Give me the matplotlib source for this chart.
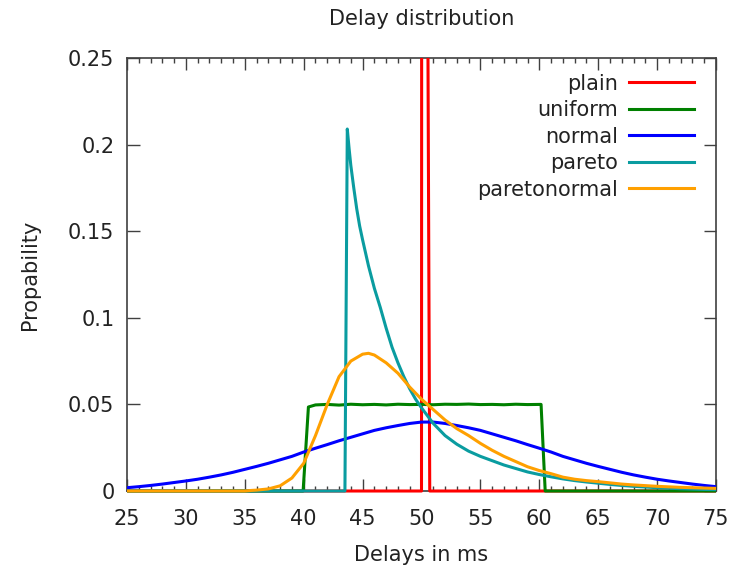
import matplotlib
matplotlib.use("Agg")
import matplotlib.pyplot as plt
from matplotlib.ticker import MultipleLocator
from matplotlib.patches import Rectangle

# ---- data ----
plain_x = [25, 50.0, 50.05, 50.1, 50.7, 75]
plain_y = [0, 0, 1.0, 1.0, 0, 0]

uniform_x = [25, 39.95, 40.4, 41, 42, 43, 44, 45, 46, 47, 48, 49, 50, 51, 52, 53, 54, 55,
             56, 57, 58, 59, 60.15, 60.5, 75]
uniform_y = [0, 0, 0.0485, 0.0497, 0.0500, 0.0496, 0.0501, 0.0498, 0.0500, 0.0497, 0.0501,
             0.0499, 0.0500, 0.0498, 0.0501, 0.0500, 0.0502, 0.0499, 0.0500, 0.0498, 0.0501,
             0.0499, 0.0500, 0, 0]

normal_x = list(range(25, 76))
normal_y = [0.0019, 0.0025, 0.0032, 0.0040, 0.0049, 0.0058, 0.0068, 0.0080, 0.0093, 0.0108,
            0.0125, 0.0142, 0.0160, 0.0180, 0.0200, 0.0225, 0.0247, 0.0268, 0.0290, 0.0310,
            0.0330, 0.0350, 0.0365, 0.0378, 0.0390, 0.0398, 0.0398, 0.0390, 0.0378, 0.0365,
            0.0350, 0.0330, 0.0310, 0.0290, 0.0268, 0.0247, 0.0225, 0.0200, 0.0180, 0.0160,
            0.0142, 0.0125, 0.0108, 0.0093, 0.0080, 0.0068, 0.0058, 0.0049, 0.0040, 0.0032,
            0.0025]

pareto_x = [25, 43.5, 43.7, 43.85, 44, 44.25, 44.5, 44.75, 45, 45.5, 46, 46.5, 47, 47.5, 48,
            48.5, 49, 49.5, 50, 51, 52, 53, 54, 55, 56, 57, 58, 59, 60, 61, 62, 63, 64, 65,
            66, 67, 68, 69, 70, 71, 72, 73, 74, 75]
pareto_y = [0, 0, 0.209, 0.198, 0.188, 0.175, 0.163, 0.153, 0.145, 0.130, 0.117, 0.106,
            0.094, 0.083, 0.074, 0.066, 0.059, 0.053, 0.048, 0.039, 0.032, 0.027, 0.023,
            0.020, 0.0175, 0.015, 0.013, 0.011, 0.0095, 0.0082, 0.0070, 0.0060, 0.0052,
            0.0045, 0.0038, 0.0032, 0.0027, 0.0023, 0.0019, 0.0016, 0.0013, 0.0011, 0.0009,
            0.0008]

paretonormal_x = [25, 35, 35.5, 36, 37, 38, 39, 40, 41, 42, 43, 44, 45, 45.5, 46, 47, 48,
                  49, 50, 51, 52, 53, 54, 55, 56, 57, 58, 59, 60, 61, 62, 63, 64, 65, 66,
                  67, 68, 69, 70, 71, 72, 73, 74, 75]
paretonormal_y = [0, 0, 0.0003, 0.0005, 0.0012, 0.0030, 0.0075, 0.0160, 0.0320, 0.0500,
                  0.0660, 0.0750, 0.0790, 0.0795, 0.0785, 0.0740, 0.0680, 0.0600, 0.0530,
                  0.0470, 0.0410, 0.0360, 0.0320, 0.0275, 0.0235, 0.0200, 0.0170, 0.0140,
                  0.0118, 0.0100, 0.0080, 0.0068, 0.0060, 0.0054, 0.0047, 0.0040, 0.0035,
                  0.0031, 0.0027, 0.0024, 0.0021, 0.0019, 0.0017, 0.0015]

series = [
    ("plain", plain_x, plain_y, "#ff0000"),
    ("uniform", uniform_x, uniform_y, "#008000"),
    ("normal", normal_x, normal_y, "#0000ff"),
    ("pareto", pareto_x, pareto_y, "#0a9ca0"),
    ("paretonormal", paretonormal_x, paretonormal_y, "#ffa000"),
]

x_ticks = [25, 30, 35, 40, 45, 50, 55, 60, 65, 70, 75]
y_ticks = [0, 0.05, 0.1, 0.15, 0.2, 0.25]
y_tick_labels = ["0", "0.05", "0.1", "0.15", "0.2", "0.25"]

# ---- figure ----
plt.rcParams['font.family'] = ['DejaVu Sans']
text_color = "#222222"
fs = 15
fig = plt.figure(figsize=(7.44, 5.70), dpi=100)
ax = fig.add_axes([127 / 744, 1 - 491 / 570, (716 - 127) / 744, (491 - 58) / 570])

for name, xs, ys, col in series:
    ln, = ax.plot(xs, ys, color=col, lw=2.2, label=name, solid_joinstyle='round', zorder=3)
    clip = Rectangle((0, -0.02), 1, 1.02, transform=ax.transAxes)
    ln.set_clip_path(clip)

ax.set_xlim(25, 75)
ax.set_ylim(0, 0.25)
ax.set_xticks(x_ticks)
ax.xaxis.set_minor_locator(MultipleLocator(1))
ax.set_yticks(y_ticks)
ax.set_yticklabels(y_tick_labels)

for sp in ax.spines.values():
    sp.set_color("#404040")
    sp.set_linewidth(1.2)

ax.tick_params(axis='x', which='major', direction='in', top=True, bottom=True,
               length=8.5, width=1.0, color="#404040", labelsize=fs, pad=13,
               labelcolor=text_color)
ax.tick_params(axis='x', which='minor', direction='in', top=True, bottom=True,
               length=3.8, width=1.0, color="#404040")
ax.tick_params(axis='y', which='major', direction='in', left=True, right=True,
               length=9, width=1.0, color="#404040", labelsize=fs, pad=9,
               labelcolor=text_color)

ax.set_title("Delay distribution", fontsize=fs, color=text_color, pad=24)
ax.set_xlabel("Delays in ms", fontsize=fs, color=text_color)
ax.xaxis.set_label_coords(0.5, -0.125)
ax.set_ylabel("Propability", fontsize=fs, color=text_color)
ax.yaxis.set_label_coords(-0.148, 0.5)

leg = ax.legend(loc='upper right', bbox_to_anchor=(0.9767, 0.983), frameon=False,
                markerfirst=False, fontsize=fs, handlelength=3.1, handletextpad=0.55,
                labelspacing=0.31, borderaxespad=0.0, labelcolor=text_color)

fig.savefig("out.png", dpi=100)
